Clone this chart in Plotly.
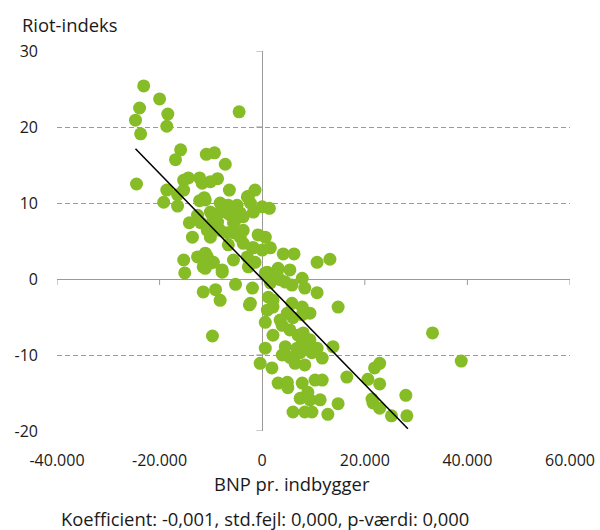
import plotly.graph_objects as go

# ---- data ----
bnp = [
    -23100, -20000, -23900, -18400, -24700, -18600, -23700, -4500, -15900, -16900,
    -10900, -9300, -7200, -24500, -8700, -15300, -14400, -12200, -11700, -18600,
    -6400, -1400, -2700, -19200, -16500, -16500, -15300, -12200, -11300, -8200,
    -14200, -12600, -13600, -10100, -8200, -6600, -6200, -5600, -10700, -8700,
    -9700, -6800, -10100, -10100, -11100, -7600, -4900, -2300, 0, 1400,
    -9700, -6800, -4300, -1700, -12000, -8700, -3700, -800, 600, -10700,
    -8200, -5600, -4300, -6600, -3700, -1700, 1600, -5600, -2900, -1400,
    -10700, -9500, -7800, 4100, 6200, 10700, 13200, 1000, 3100, 5400,
    1900, -2900, -3700, -5200, -1900, -2700, 7800, -5200, -1900, 1600,
    3500, 5800, 8300, 10700, -2300, 1200, 2100, 5800, 4900, 7800,
    9300, 14800, 600, 3500, 6000, 7800, 2100, 5400, 7000, 9300,
    7800, 600, 4500, 6800, 8700, 10700, 13800, 8000, 3900, 5400,
    7400, 9700, 11700, -400, 1900, 6400, 8300, 3100, 4900, 5000,
    7800, 10300, 11700, 8900, 7400, 9300, 11300, 16500, 14800, 6000,
    8300, 9700, 12800, 33200, 38800, 22900, 21900, 20600, 22900, 21400,
    21600, 22900, 28000, 25200, 28200, -15300, -15100, -12600, -11100, -11500,
    -7800, -11500, -9100, -8200, -9700, -2500, 600, 4500, 1000, 2100,
    3900, -10100, -11100, 0, 2900,
]
riot = [
    25.4, 23.7, 22.5, 21.7, 20.9, 20.1, 19.1, 22.0, 17.0, 15.7,
    16.4, 16.6, 15.1, 12.5, 13.2, 13.0, 13.3, 13.3, 12.6, 11.7,
    11.7, 11.7, 10.9, 10.1, 9.6, 11.1, 11.7, 10.3, 10.7, 10.0,
    7.4, 8.4, 5.5, 8.8, 8.8, 9.7, 8.4, 7.4, 6.8, 6.8,
    7.5, 6.1, 5.5, 12.8, 10.4, 9.7, 9.7, 10.0, 9.5, 9.3,
    8.4, 8.7, 8.7, 8.8, 7.4, 7.5, 6.4, 5.8, 5.5, 6.4,
    6.4, 6.1, 5.5, 4.5, 4.7, 4.1, 4.1, 2.5, 2.9, 2.2,
    2.9, 2.2, 1.2, 3.3, 3.3, 2.2, 2.6, 0.9, 1.4, 1.2,
    0.3, 10.8, 8.2, 7.8, 4.1, 1.6, 0.1, -0.7, -1.2, -0.5,
    -0.1, -0.8, -1.2, -1.8, -3.2, -2.4, -3.7, -3.2, -4.5, -3.7,
    -4.5, -3.7, -5.7, -5.4, -5.1, -4.7, -7.4, -6.7, -7.4, -8.0,
    -8.4, -9.1, -8.9, -9.1, -9.3, -9.1, -8.9, -7.1, -10.0, -10.3,
    -9.7, -9.7, -10.4, -11.1, -11.7, -11.1, -11.3, -13.7, -13.6, -14.3,
    -13.7, -13.3, -13.3, -14.9, -15.7, -15.9, -15.9, -12.9, -16.4, -17.5,
    -17.5, -17.5, -17.8, -7.1, -10.8, -11.1, -11.7, -13.2, -13.8, -15.8,
    -16.3, -17.0, -15.3, -18.0, -18.0, 2.5, 0.8, 2.9, 3.4, 1.6,
    0.9, -1.7, -1.4, -2.8, -7.5, -3.4, 0.8, -0.4, -4.1, -2.8,
    -6.1, 2.1, 1.4, 3.8, 0.9,
]

# regression line
reg_slope = -0.000694
reg_intercept = 0.0
reg_x = [-24700, 28400]
reg_y = [reg_intercept + reg_slope * v for v in reg_x]

x_ticks = [-40000, -20000, 0, 20000, 40000, 60000]
x_tick_labels = ["-40.000", "-20.000", "0", "20.000", "40.000", "60.000"]
y_ticks = [-20, -10, 0, 10, 20, 30]
y_tick_labels = ["-20", "-10", "0", "10", "20", "30"]

y_title = "Riot-indeks"
x_title = "BNP pr. indbygger"
note = "Koefficient: -0,001, std.fejl: 0,000, p-værdi: 0,000"

GREEN = "#86bc25"
AXIS = "#9a9a9a"
TEXT = "#1a1a1a"

fig = go.Figure()
fig.add_trace(go.Scatter(
    x=bnp, y=riot, mode="markers",
    marker=dict(color=GREEN, size=13, line=dict(width=0)),
    hoverinfo="skip", showlegend=False,
))
fig.add_trace(go.Scatter(
    x=reg_x, y=reg_y, mode="lines",
    line=dict(color="black", width=1.5),
    hoverinfo="skip", showlegend=False,
))

shapes = []
for t in x_ticks:
    shapes.append(dict(type="line", xref="x", yref="y", ysizemode="pixel",
                       yanchor=0, x0=t, x1=t, y0=0, y1=-6,
                       line=dict(color=AXIS, width=1), layer="below"))
for t in y_ticks:
    shapes.append(dict(type="line", xref="x", yref="y", xsizemode="pixel",
                       xanchor=0, y0=t, y1=t, x0=-6, x1=0,
                       line=dict(color=AXIS, width=1), layer="below"))

fig.update_layout(
    width=600, height=530, autosize=False,
    margin=dict(l=57, r=30, t=51, b=99, autoexpand=False),
    paper_bgcolor="white", plot_bgcolor="white",
    font=dict(family="Open Sans", size=16, color=TEXT),
    shapes=shapes,
    xaxis=dict(
        range=[-40000, 60000], tickvals=x_ticks, ticktext=x_tick_labels,
        showgrid=False, zeroline=True, zerolinecolor=AXIS, zerolinewidth=1,
        showline=False, ticks="", ticklabelstandoff=18, automargin=False,
        tickfont=dict(size=16, color=TEXT),
    ),
    yaxis=dict(
        range=[-20, 30], tickvals=y_ticks, ticktext=y_tick_labels,
        showgrid=True, gridcolor=AXIS, gridwidth=1, griddash="5px,3px",
        zeroline=True, zerolinecolor=AXIS, zerolinewidth=1,
        showline=False, ticks="", ticklabelstandoff=18, automargin=False,
        tickfont=dict(size=16, color=TEXT),
    ),
    annotations=[
        dict(text=y_title, xref="paper", yref="paper", x=-0.072, y=1.071,
             xanchor="left", yanchor="middle", showarrow=False,
             font=dict(size=18.4, color=TEXT)),
        dict(text=x_title, xref="paper", yref="paper", x=0.458, y=-0.137,
             xanchor="center", yanchor="middle", showarrow=False,
             font=dict(size=18.4, color=TEXT)),
        dict(text=note, xref="paper", yref="paper", x=0.406, y=-0.230,
             xanchor="center", yanchor="middle", showarrow=False,
             font=dict(size=18.4, color=TEXT)),
    ],
)

fig.write_html("out.html", config={"displayModeBar": False},
               post_script="document.body.style.margin='0';")
